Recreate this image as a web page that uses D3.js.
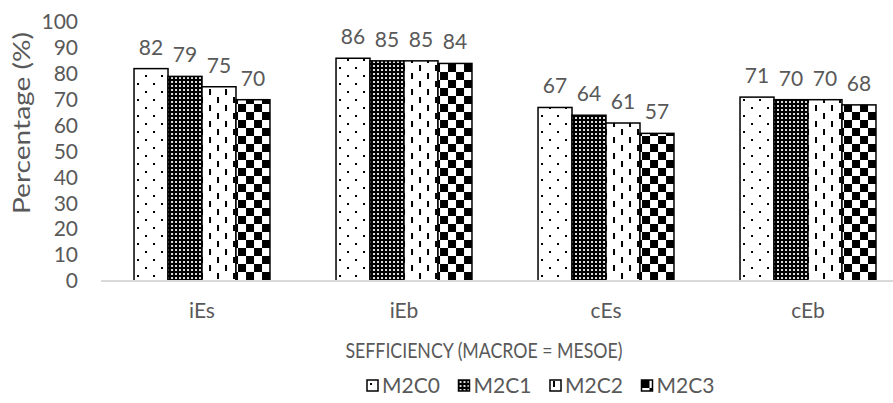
<!DOCTYPE html>
<html>
<head>
<meta charset="utf-8">
<script src="https://cdn.jsdelivr.net/npm/d3@7"></script>
<style>
  body { margin: 0; background: #fff; }
  svg { display: block; }
  text { font-family: Lato, "Open Sans", sans-serif; fill: #595959; }
</style>
</head>
<body>
<svg id="chart" width="893" height="403"></svg>
<script>
// Efficiency percentages per configuration
const categories = ["iEs", "iEb", "cEs", "cEb"];
const seriesNames = ["M2C0", "M2C1", "M2C2", "M2C3"];
const M2C0 = [82, 86, 67, 71];
const M2C1 = [79, 85, 64, 70];
const M2C2 = [75, 85, 61, 70];
const M2C3 = [70, 84, 57, 68];
const yTicks = [0, 10, 20, 30, 40, 50, 60, 70, 80, 90, 100];
const yTitle = "Percentage (%)";
const xTitle = "SEFFICIENCY (MACROE = MESOE)";

const seriesValues = [M2C0, M2C1, M2C2, M2C3];

const svg = d3.select("#chart");
const W = 893, H = 403;
const FONT = "Lato, 'Open Sans', sans-serif";
const FS = "21px";

// Plot area
const plotLeft = 101, plotRight = 909, plotTop = 22, plotBottom = 281;

const x0 = d3.scaleBand().domain(categories).range([plotLeft, plotRight]).paddingInner(0.327).paddingOuter(0.1635);
const x1 = d3.scaleBand().domain(seriesNames).range([0, x0.bandwidth()]);
const y = d3.scaleLinear().domain([0, 100]).range([plotBottom, plotTop]);

// Fill patterns for each series
const defs = svg.append("defs");

const p0 = defs.append("pattern").attr("id", "pat0").attr("patternUnits", "userSpaceOnUse")
  .attr("width", 16).attr("height", 16);
p0.append("rect").attr("width", 16).attr("height", 16).attr("fill", "#fff");
p0.append("rect").attr("x", 3).attr("y", 3).attr("width", 2).attr("height", 2).attr("fill", "#000");
p0.append("rect").attr("x", 11).attr("y", 11).attr("width", 2).attr("height", 2).attr("fill", "#000");

const p1 = defs.append("pattern").attr("id", "pat1").attr("patternUnits", "userSpaceOnUse")
  .attr("width", 4).attr("height", 4);
p1.append("rect").attr("width", 4).attr("height", 4).attr("fill", "#000");
p1.append("rect").attr("x", 1).attr("y", 1).attr("width", 2).attr("height", 2).attr("fill", "#ddd");

const p2 = defs.append("pattern").attr("id", "pat2").attr("patternUnits", "userSpaceOnUse")
  .attr("width", 16).attr("height", 16);
p2.append("rect").attr("width", 16).attr("height", 16).attr("fill", "#fff");
p2.append("rect").attr("x", 3).attr("y", 1).attr("width", 2).attr("height", 6).attr("fill", "#000");
p2.append("rect").attr("x", 11).attr("y", 9).attr("width", 2).attr("height", 6).attr("fill", "#000");

const p3 = defs.append("pattern").attr("id", "pat3").attr("patternUnits", "userSpaceOnUse")
  .attr("width", 16).attr("height", 16);
p3.append("rect").attr("width", 16).attr("height", 16).attr("fill", "#fff");
p3.append("rect").attr("x", 0).attr("y", 0).attr("width", 8).attr("height", 8).attr("fill", "#000");
p3.append("rect").attr("x", 8).attr("y", 8).attr("width", 8).attr("height", 8).attr("fill", "#000");

const patternIds = ["pat0", "pat1", "pat2", "pat3"];

// Y axis tick labels (no axis line)
const yAxis = svg.append("g").attr("transform", `translate(${plotLeft},0)`)
  .call(d3.axisLeft(y).tickValues(yTicks).tickSize(0).tickPadding(23));
yAxis.select(".domain").remove();
yAxis.selectAll("text").style("font-size", FS).attr("fill", "#595959").style("font-family", FONT);

// Y axis title
svg.append("text")
  .attr("transform", `translate(30,123) rotate(-90)`)
  .attr("text-anchor", "middle")
  .attr("textLength", 182)
  .attr("lengthAdjust", "spacingAndGlyphs")
  .style("font-size", "23px")
  .text(yTitle);

// Bars
const groups = svg.append("g").selectAll("g")
  .data(categories)
  .join("g")
  .attr("transform", d => `translate(${x0(d)},0)`);

groups.selectAll("rect")
  .data((c, ci) => seriesNames.map((s, si) => ({ s, si, v: seriesValues[si][ci] })))
  .join("rect")
  .attr("x", d => x1(d.s))
  .attr("y", d => y(d.v))
  .attr("width", x1.bandwidth())
  .attr("height", d => y(0) - y(d.v))
  .attr("fill", d => `url(#${patternIds[d.si]})`)
  .attr("stroke", "#000")
  .attr("stroke-width", 1.5);

// Value labels
groups.selectAll("text.val")
  .data((c, ci) => seriesNames.map((s, si) => ({ s, si, v: seriesValues[si][ci] })))
  .join("text")
  .attr("class", "val")
  .attr("x", d => x1(d.s) + x1.bandwidth() / 2)
  .attr("y", d => y(d.v) - 14)
  .attr("text-anchor", "middle")
  .style("font-size", FS)
  .text(d => d.v);

// Baseline
svg.append("line")
  .attr("x1", plotLeft).attr("x2", W)
  .attr("y1", y(0)).attr("y2", y(0))
  .attr("stroke", "#d9d9d9").attr("stroke-width", 2);

// Category labels
const xAxis = svg.append("g").attr("transform", `translate(0,${plotBottom})`)
  .call(d3.axisBottom(x0).tickSize(0).tickPadding(22));
xAxis.select(".domain").remove();
xAxis.selectAll("text").style("font-size", FS).attr("fill", "#595959").style("font-family", FONT);

// X axis title
svg.append("text")
  .attr("x", 484).attr("y", 358)
  .attr("text-anchor", "middle")
  .attr("textLength", 277)
  .attr("lengthAdjust", "spacingAndGlyphs")
  .style("font-size", "22px")
  .text(xTitle);

// Legend
const legend = svg.append("g").selectAll("g")
  .data(seriesNames)
  .join("g")
  .attr("transform", (d, i) => `translate(${367 + i * 91.5},380)`);
legend.append("rect")
  .attr("width", 11).attr("height", 11)
  .attr("fill", (d, i) => `url(#${patternIds[i]})`)
  .attr("stroke", "#000").attr("stroke-width", 1.5);
legend.append("text")
  .attr("x", 15).attr("y", 13)
  .style("font-size", FS)
  .text(d => d);
</script>
</body>
</html>
